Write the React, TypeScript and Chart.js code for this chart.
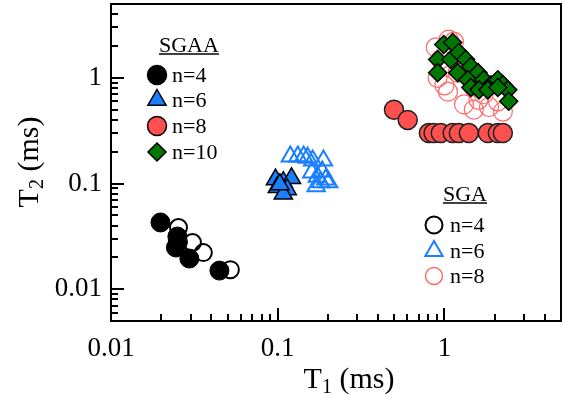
import React, { useEffect, useRef } from 'react';
import { Chart, registerables } from 'chart.js';

Chart.register(...registerables);

const SERIF = '"Liberation Serif", "Times New Roman", Times, serif';

// Axis ticks
const xTickValues = [0.01, 0.1, 1];
const xTickLabels = ['0.01', '0.1', '1'];
const yTickValues = [0.01, 0.1, 1];
const yTickLabels = ['0.01', '0.1', '1'];

// SGAA n=4 (black filled circles)
const sgaa4X = [0.0198, 0.025, 0.0245, 0.0295, 0.0447, 0.0252];
const sgaa4Y = [0.0428, 0.0315, 0.0248, 0.0195, 0.015, 0.028];
// SGA n=4 (open black circles)
const sga4X = [0.0254, 0.0308, 0.0358, 0.052];
const sga4Y = [0.0384, 0.0277, 0.0222, 0.0153];

// SGAA n=6 (blue filled triangles)
const sgaa6X = [0.097, 0.108, 0.121, 0.0995, 0.114, 0.108, 0.103];
const sgaa6Y = [0.109, 0.103, 0.112, 0.092, 0.088, 0.08, 0.098];
// SGA n=6 (open blue triangles)
const sga6X = [0.119, 0.132, 0.143, 0.151, 0.162, 0.188, 0.173, 0.181, 0.194, 0.202, 0.16, 0.17, 0.185];
const sga6Y = [0.18, 0.18, 0.18, 0.175, 0.165, 0.165, 0.116, 0.103, 0.109, 0.103, 0.127, 0.094, 0.13];

// SGAA n=8 (red filled circles)
const sgaa8X = [0.498, 0.602, 0.806, 0.86, 0.95, 1.12, 1.22, 1.4, 1.82, 2.09, 2.24];
const sgaa8Y = [0.5, 0.4, 0.3, 0.3, 0.3, 0.3, 0.3, 0.3, 0.3, 0.3, 0.3];
// SGA n=8 (open red circles)
const sga8X = [0.887, 1.06, 1.14, 0.91, 1.05, 1.31, 1.5, 1.85, 2.24, 1.2, 1.48, 1.72, 2.09, 0.95, 1.0, 1.6];
const sga8Y = [1.94, 2.3, 2.2, 1.0, 0.74, 0.56, 0.5, 0.53, 0.48, 1.12, 0.83, 0.7, 0.6, 1.5, 0.85, 0.62];

// SGAA n=10 (green diamonds)
const sgaa10X = [0.99, 1.12, 0.91, 1.09, 1.22, 1.34, 1.44, 0.91, 1.2, 1.59, 1.38, 1.44, 1.72, 1.9, 2.09, 2.24, 2.4, 2.43, 1.61, 1.82, 2.09];
const sgaa10Y = [2.07, 2.16, 1.49, 1.49, 1.74, 1.49, 1.28, 1.12, 1.12, 1.12, 0.96, 0.81, 0.96, 0.86, 0.96, 0.86, 0.77, 0.6, 0.77, 0.77, 0.81];

const BLUE = '#1a7fff';
const RED = '#ff5050';
const RED_OPEN = '#ff6a6a';
const GREEN = '#007800';

const pts = (xs: number[], ys: number[]) => xs.map((x, i) => ({ x, y: ys[i] }));

function drawShape(ctx: CanvasRenderingContext2D, shape: string, x: number, y: number, r: number, fill: string | null, stroke: string, lw: number) {
  ctx.beginPath();
  if (shape === 'circle') {
    ctx.arc(x, y, r, 0, Math.PI * 2);
  } else if (shape === 'triangle') {
    ctx.moveTo(x, y - r);
    ctx.lineTo(x + 0.866 * r, y + 0.5 * r);
    ctx.lineTo(x - 0.866 * r, y + 0.5 * r);
    ctx.closePath();
  } else {
    ctx.moveTo(x, y - r);
    ctx.lineTo(x + r, y);
    ctx.lineTo(x, y + r);
    ctx.lineTo(x - r, y);
    ctx.closePath();
  }
  if (fill) {
    ctx.fillStyle = fill;
    ctx.fill();
  }
  ctx.lineWidth = lw;
  ctx.strokeStyle = stroke;
  ctx.stroke();
}

function drawSubTitle(ctx: CanvasRenderingContext2D, sub: string, x: number, y: number, rotate: boolean) {
  ctx.save();
  ctx.translate(x, y);
  if (rotate) ctx.rotate(-Math.PI / 2);
  const big = `30px ${SERIF}`;
  const small = `20px ${SERIF}`;
  ctx.font = big;
  const wT = ctx.measureText('T').width;
  const wRest = ctx.measureText(' (ms)').width;
  ctx.font = small;
  const wSub = ctx.measureText(sub).width;
  const total = wT + wSub + wRest;
  let cx = -total / 2;
  ctx.fillStyle = '#000';
  ctx.textBaseline = 'alphabetic';
  ctx.textAlign = 'left';
  ctx.font = big;
  ctx.fillText('T', cx, 10);
  cx += wT;
  ctx.font = small;
  ctx.fillText(sub, cx, 15);
  cx += wSub;
  ctx.font = big;
  ctx.fillText(' (ms)', cx, 10);
  ctx.restore();
}

const decorPlugin = {
  id: 'decor',
  afterDraw(chart: any) {
    const { ctx, scales } = chart;
    const xs = scales.x;
    const ys = scales.y;
    const L = xs.getPixelForValue(0.01);
    const R = xs.getPixelForValue(5);
    const T = ys.getPixelForValue(5);
    const B = ys.getPixelForValue(0.005);
    ctx.save();
    ctx.strokeStyle = '#000';
    ctx.lineWidth = 2;
    for (let e = -3; e <= 0; e++) {
      for (let m = 1; m <= 9; m++) {
        const v = m * Math.pow(10, e);
        if (v < 0.005 - 1e-9 || v > 5 + 1e-9) continue;
        const py = Math.round(ys.getPixelForValue(v));
        const len = m === 1 ? 13 : 7;
        ctx.beginPath();
        ctx.moveTo(L, py);
        ctx.lineTo(L + len, py);
        ctx.stroke();
      }
    }
    for (let e = -2; e <= 0; e++) {
      for (let m = 1; m <= 9; m++) {
        const v = m * Math.pow(10, e);
        if (v < 0.01 - 1e-9 || v > 5 + 1e-9) continue;
        const px = Math.round(xs.getPixelForValue(v));
        const len = m === 1 ? 13 : 7;
        ctx.beginPath();
        ctx.moveTo(px, B);
        ctx.lineTo(px, B - len);
        ctx.stroke();
      }
    }
    ctx.lineWidth = 2;
    ctx.strokeRect(L, T, R - L, B - T);

    drawSubTitle(ctx, '1', 349, 378, false);
    drawSubTitle(ctx, '2', 28, 162, true);

    ctx.font = `22px ${SERIF}`;
    ctx.fillStyle = '#000';
    ctx.textAlign = 'left';
    ctx.textBaseline = 'middle';
    ctx.fillText('SGAA', 159, 46);
    const w1 = ctx.measureText('SGAA').width;
    ctx.lineWidth = 1.5;
    ctx.beginPath();
    ctx.moveTo(159, 54);
    ctx.lineTo(159 + w1, 54);
    ctx.stroke();
    const l1 = [
      { s: 'circle', f: '#000', r: 9.5, t: 'n=4' },
      { s: 'triangle', f: BLUE, r: 10.5, t: 'n=6' },
      { s: 'circle', f: RED, r: 9.5, t: 'n=8' },
      { s: 'diamond', f: GREEN, r: 9, t: 'n=10' },
    ];
    const l1y = [75, 100, 126, 152];
    l1.forEach((it, i) => {
      drawShape(ctx, it.s, 157, l1y[i], it.r, it.f, '#000', 1.5);
      ctx.fillStyle = '#000';
      ctx.font = `22px ${SERIF}`;
      ctx.fillText(it.t, 172, l1y[i] + 1);
    });

    ctx.font = `22px ${SERIF}`;
    ctx.fillText('SGA', 443, 195);
    const w2 = ctx.measureText('SGA').width;
    ctx.lineWidth = 1.5;
    ctx.beginPath();
    ctx.moveTo(443, 203);
    ctx.lineTo(443 + w2, 203);
    ctx.stroke();
    const l2 = [
      { s: 'circle', c: '#000', r: 8.5, t: 'n=4', lw: 2 },
      { s: 'triangle', c: BLUE, r: 10, t: 'n=6', lw: 2 },
      { s: 'circle', c: RED_OPEN, r: 8.5, t: 'n=8', lw: 1.5 },
    ];
    const l2y = [225, 251, 276];
    l2.forEach((it, i) => {
      drawShape(ctx, it.s, 434, l2y[i], it.r, null, it.c, it.lw);
      ctx.fillStyle = '#000';
      ctx.font = `22px ${SERIF}`;
      ctx.fillText(it.t, 450, l2y[i] + 1);
    });
    ctx.restore();
  },
};

export default function App() {
  const ref = useRef<HTMLCanvasElement>(null);
  useEffect(() => {
    document.body.style.margin = '0';
    document.body.style.overflow = 'hidden';
    document.documentElement.style.overflow = 'hidden';
    const canvas = ref.current!;
    const chart = new Chart(canvas, {
      type: 'scatter',
      data: {
        datasets: [
          { label: 'SGAA n=4', data: pts(sgaa4X, sgaa4Y), pointStyle: 'circle', pointRadius: 9.5, backgroundColor: '#000', borderColor: '#000', borderWidth: 1 },
          { label: 'SGAA n=6', data: pts(sgaa6X, sgaa6Y), pointStyle: 'triangle', pointRadius: 10.5, backgroundColor: BLUE, borderColor: '#000', borderWidth: 1.5 },
          { label: 'SGAA n=8', data: pts(sgaa8X, sgaa8Y), pointStyle: 'circle', pointRadius: 9.5, backgroundColor: RED, borderColor: '#222', borderWidth: 1.5 },
          { label: 'SGAA n=10', data: pts(sgaa10X, sgaa10Y), pointStyle: 'rectRot', pointRadius: 9, backgroundColor: GREEN, borderColor: '#000', borderWidth: 1.5 },
          { label: 'SGA n=4', data: pts(sga4X, sga4Y), pointStyle: 'circle', pointRadius: 8.5, backgroundColor: 'rgba(0,0,0,0)', borderColor: '#000', borderWidth: 2 },
          { label: 'SGA n=6', data: pts(sga6X, sga6Y), pointStyle: 'triangle', pointRadius: 10, backgroundColor: 'rgba(0,0,0,0)', borderColor: BLUE, borderWidth: 2 },
          { label: 'SGA n=8', data: pts(sga8X, sga8Y), pointStyle: 'circle', pointRadius: 9.5, backgroundColor: 'rgba(0,0,0,0)', borderColor: RED_OPEN, borderWidth: 1.2 },
        ].map((d) => ({ ...d, clip: false })),
      },
      options: {
        responsive: false,
        animation: false,
        events: [],
        layout: { autoPadding: false, padding: { top: 4, right: 2, left: 0, bottom: 0 } },
        plugins: { legend: { display: false }, tooltip: { enabled: false } },
        scales: {
          x: {
            type: 'logarithmic',
            min: 0.01,
            max: 5,
            grid: { display: false, drawTicks: false },
            border: { display: false },
            afterBuildTicks: (s: any) => { s.ticks = xTickValues.map((v) => ({ value: v })); },
            afterFit: (s: any) => { s.height = 76; s.paddingLeft = 0; s.paddingRight = 0; },
            ticks: {
              autoSkip: false,
              maxRotation: 0,
              padding: 12,
              color: '#000',
              font: { family: SERIF, size: 27 },
              callback: (_v: any, i: number) => xTickLabels[i],
            },
          },
          y: {
            type: 'logarithmic',
            min: 0.005,
            max: 5,
            grid: { display: false, drawTicks: false },
            border: { display: false },
            afterBuildTicks: (s: any) => { s.ticks = yTickValues.map((v) => ({ value: v })); },
            afterFit: (s: any) => { s.width = 111; s.paddingTop = 0; s.paddingBottom = 0; },
            ticks: {
              autoSkip: false,
              padding: 9,
              color: '#000',
              font: { family: SERIF, size: 27 },
              callback: (_v: any, i: number) => yTickLabels[i],
            },
          },
        },
      },
      plugins: [decorPlugin],
    } as any);
    return () => chart.destroy();
  }, []);
  return (
    <div style={{ position: 'fixed', left: 0, top: 0, width: 563, height: 397, background: '#fff' }}>
      <canvas ref={ref} width={563} height={397} style={{ display: 'block', width: 563, height: 397 }} />
    </div>
  );
}
